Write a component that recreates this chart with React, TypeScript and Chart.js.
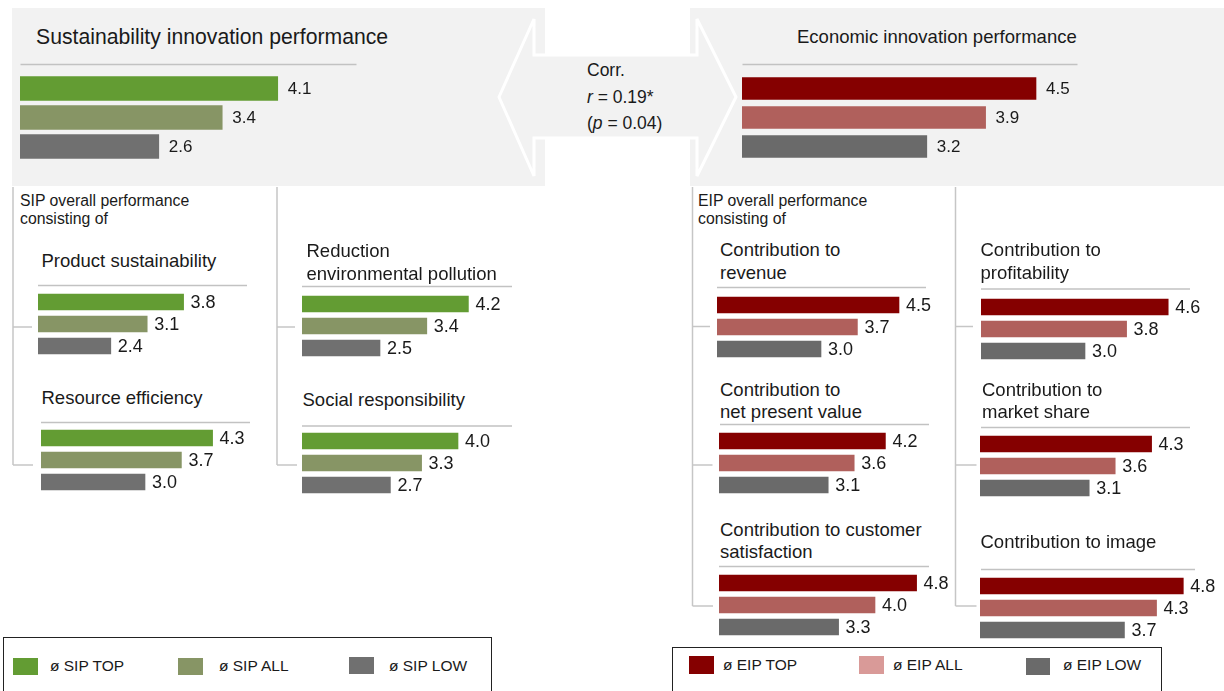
import React, { useEffect, useRef } from 'react';
import { Chart, registerables } from 'chart.js';

Chart.register(...registerables);

// ---------- data ----------
const GROUPS = ['TOP', 'ALL', 'LOW'];

const SIP_OVERALL = [4.1, 3.4, 2.6];
const EIP_OVERALL = [4.5, 3.9, 3.2];

const PRODUCT_SUSTAINABILITY = [3.8, 3.1, 2.4];
const REDUCTION_POLLUTION = [4.2, 3.4, 2.5];
const RESOURCE_EFFICIENCY = [4.3, 3.7, 3.0];
const SOCIAL_RESPONSIBILITY = [4.0, 3.3, 2.7];

const CONTRIB_REVENUE = [4.5, 3.7, 3.0];
const CONTRIB_PROFITABILITY = [4.6, 3.8, 3.0];
const CONTRIB_NPV = [4.2, 3.6, 3.1];
const CONTRIB_MARKET_SHARE = [4.3, 3.6, 3.1];
const CONTRIB_CUSTOMER_SAT = [4.8, 4.0, 3.3];
const CONTRIB_IMAGE = [4.8, 4.3, 3.7];

const SIP_LEGEND = ['ø SIP TOP', 'ø SIP ALL', 'ø SIP LOW'];
const EIP_LEGEND = ['ø EIP TOP', 'ø EIP ALL', 'ø EIP LOW'];

// ---------- styles ----------
const SIP_COLORS = ['#639c33', '#879565', '#707070'];
const EIP_COLORS = ['#850000', '#b0605c', '#6a6a6a'];
const EIP_LEGEND_COLORS = ['#850000', '#d99a98', '#6a6a6a'];
const FONT = '"Liberation Sans", Arial, Helvetica, sans-serif';
const TEXT = '#1a1a1a';
const BOX = '#f2f2f2';
const RULE = '#c2c2c2';
const BRACKET = '#c6c6c6';

type PanelSpec = {
  values: number[];
  colors: string[];
  x: number;
  cy: number;
  ppu: number;
  thick: number;
  pitch: number;
  fs: number;
  gap: number;
  min?: number;
};

const SUB = { ppu: 52, thick: 16, pitch: 22, fs: 18, gap: 7 };

const PANELS: PanelSpec[] = [
  { values: SIP_OVERALL, colors: SIP_COLORS, x: 20, cy: 88, ppu: 79.3, min: 0.85, thick: 24, pitch: 29, fs: 17, gap: 10 },
  { values: EIP_OVERALL, colors: EIP_COLORS, x: 742, cy: 88, ppu: 84, thick: 22, pitch: 29, fs: 17, gap: 10 },
  { values: PRODUCT_SUSTAINABILITY, colors: SIP_COLORS, x: 38, cy: 302, ...SUB },
  { values: REDUCTION_POLLUTION, colors: SIP_COLORS, x: 302, cy: 304, ...SUB },
  { values: RESOURCE_EFFICIENCY, colors: SIP_COLORS, x: 41, cy: 438, ...SUB },
  { values: SOCIAL_RESPONSIBILITY, colors: SIP_COLORS, x: 302, cy: 441, ...SUB },
  { values: CONTRIB_REVENUE, colors: EIP_COLORS, x: 717, cy: 305, ...SUB },
  { values: CONTRIB_PROFITABILITY, colors: EIP_COLORS, x: 981, cy: 307, ...SUB },
  { values: CONTRIB_NPV, colors: EIP_COLORS, x: 719, cy: 441, ...SUB },
  { values: CONTRIB_MARKET_SHARE, colors: EIP_COLORS, x: 980, cy: 444, ...SUB },
  { values: CONTRIB_CUSTOMER_SAT, colors: EIP_COLORS, x: 719, cy: 583, ...SUB },
  { values: CONTRIB_IMAGE, colors: EIP_COLORS, x: 980, cy: 586, ...SUB, ppu: 53.5 },
];

function BarPanel(p: PanelSpec) {
  const ref = useRef<HTMLCanvasElement>(null);
  const min = p.min ?? 1;
  const max = min + 4;
  const plotW = 4 * p.ppu;
  const w = Math.ceil(plotW) + 60;
  const h = Math.round(3 * p.pitch);
  useEffect(() => {
    const chart = new Chart(ref.current as HTMLCanvasElement, {
      type: 'bar',
      data: {
        labels: GROUPS,
        datasets: [
          {
            data: p.values,
            backgroundColor: p.colors,
            barThickness: p.thick,
            borderWidth: 0,
          },
        ],
      },
      options: {
        indexAxis: 'y',
        responsive: false,
        maintainAspectRatio: false,
        animation: false,
        devicePixelRatio: 1,
        events: [],
        layout: { padding: { left: 0, top: 0, bottom: 0, right: w - plotW } },
        scales: {
          x: { type: 'linear', min, max, beginAtZero: false, display: false },
          y: { display: false },
        },
        plugins: { legend: { display: false }, tooltip: { enabled: false } },
      },
      plugins: [
        {
          id: 'valueLabels',
          afterDatasetsDraw(c: any) {
            const ctx = c.ctx;
            const meta = c.getDatasetMeta(0);
            ctx.save();
            ctx.font = `${p.fs}px ${FONT}`;
            ctx.fillStyle = TEXT;
            ctx.textBaseline = 'middle';
            ctx.textAlign = 'left';
            meta.data.forEach((el: any, i: number) => {
              ctx.fillText(p.values[i].toFixed(1), el.x + p.gap, el.y + 1);
            });
            ctx.restore();
          },
        },
      ],
    } as any);
    return () => chart.destroy();
  }, []);
  return (
    <canvas
      ref={ref}
      width={w}
      height={h}
      style={{ position: 'absolute', left: p.x, top: Math.round(p.cy - p.pitch / 2), width: w, height: h }}
    />
  );
}

function Txt({ x, y, fs, lh, children, style }: any) {
  return (
    <div
      style={{
        position: 'absolute',
        left: x,
        top: y,
        fontSize: fs,
        lineHeight: `${lh}px`,
        fontFamily: FONT,
        color: TEXT,
        whiteSpace: 'nowrap',
        ...style,
      }}
    >
      {children}
    </div>
  );
}

const RULES: [number, number, number][] = [
  [20.5, 356.5, 64.5],
  [742.5, 1077.5, 64.5],
  [38, 247, 285.5],
  [302, 512, 286.5],
  [41, 250, 422.5],
  [302, 512, 426],
  [717, 926, 287.5],
  [981, 1190, 289],
  [720, 929, 424.5],
  [981, 1190, 427.5],
  [719, 929, 566.5],
  [981, 1195, 569.5],
];

const BRACKETS: { x: number; y0: number; ticks: [number, number][] }[] = [
  { x: 13, y0: 187, ticks: [[327, 32], [465, 33]] },
  { x: 277, y0: 187, ticks: [[327, 295], [465, 297]] },
  { x: 692.5, y0: 187, ticks: [[326.5, 710], [465, 712.5], [606, 713]] },
  { x: 955.5, y0: 187, ticks: [[326.5, 973], [465, 976.5], [606, 976.5]] },
];

function Legend({ x, y, w, labels, colors, sw, tx, cy }: any) {
  return (
    <>
      <div
        style={{
          position: 'absolute',
          left: x,
          top: y,
          width: w,
          height: 80,
          border: '1px solid #222',
          boxSizing: 'border-box',
        }}
      />
      {labels.map((l: string, i: number) => (
        <React.Fragment key={l}>
          <div
            style={{
              position: 'absolute',
              left: sw[i][0],
              top: sw[i][1],
              width: sw[i][2],
              height: sw[i][3],
              background: colors[i],
            }}
          />
          <Txt x={tx[i]} y={cy - 10} fs={15.5} lh={20}>
            {l}
          </Txt>
        </React.Fragment>
      ))}
    </>
  );
}

export default function App() {
  return (
    <div
      style={{
        position: 'absolute',
        left: 0,
        top: 0,
        width: 1224,
        height: 691,
        overflow: 'hidden',
        background: '#fff',
        fontFamily: FONT,
      }}
    >
      <svg width={1224} height={691} style={{ position: 'absolute', left: 0, top: 0 }}>
        <rect x={12} y={8} width={533} height={178} fill={BOX} />
        <rect x={690} y={8} width={534} height={178} fill={BOX} />
        <polygon
          points="499,97 534,19 534,55 697,55 697,19 736,97 697,176 697,138 534,138 534,176"
          fill={BOX}
          stroke="#ffffff"
          strokeWidth={3}
        />
        {RULES.map(([x0, x1, y], i) => (
          <line key={'r' + i} x1={x0} x2={x1} y1={y} y2={y} stroke={RULE} strokeWidth={1.5} />
        ))}
        {BRACKETS.map((b, i) => {
          const yEnd = b.ticks[b.ticks.length - 1][0];
          return (
            <g key={'b' + i} stroke={BRACKET} strokeWidth={1.5} fill="none">
              <line x1={b.x} x2={b.x} y1={b.y0} y2={yEnd} />
              {b.ticks.map(([ty, tx], j) => (
                <line key={j} x1={b.x} x2={tx} y1={ty} y2={ty} />
              ))}
            </g>
          );
        })}
      </svg>

      {PANELS.map((p, i) => (
        <BarPanel key={i} {...p} />
      ))}

      <Txt x={36} y={25} fs={21.2} lh={24}>Sustainability innovation performance</Txt>
      <Txt x={797} y={24.5} fs={18.5} lh={23}>Economic innovation performance</Txt>

      <Txt x={587} y={57} fs={17.5} lh={26.5}>
        Corr.
        <br />
        <i>r</i> = 0.19*
        <br />(<i>p</i> = 0.04)
      </Txt>

      <Txt x={20} y={191.5} fs={15.8} lh={18.6}>
        SIP overall performance
        <br />
        consisting of
      </Txt>
      <Txt x={698} y={191.5} fs={15.8} lh={18.6}>
        EIP overall performance
        <br />
        consisting of
      </Txt>

      <Txt x={41.5} y={248.5} fs={18.5} lh={23}>Product sustainability</Txt>
      <Txt x={306.5} y={239.2} fs={18.5} lh={23.3}>
        Reduction
        <br />
        environmental pollution
      </Txt>
      <Txt x={41.5} y={386} fs={18.5} lh={23}>Resource efficiency</Txt>
      <Txt x={302.5} y={387.5} fs={18.5} lh={23}>Social responsibility</Txt>

      <Txt x={720} y={239.2} fs={18.5} lh={22.6}>
        Contribution to
        <br />
        revenue
      </Txt>
      <Txt x={980.5} y={239.2} fs={18.5} lh={22.6}>
        Contribution to
        <br />
        profitability
      </Txt>
      <Txt x={720} y={378.8} fs={18.5} lh={21.8}>
        Contribution to
        <br />
        net present value
      </Txt>
      <Txt x={982} y={378.8} fs={18.5} lh={21.8}>
        Contribution to
        <br />
        market share
      </Txt>
      <Txt x={720} y={518.8} fs={18.5} lh={22.6}>
        Contribution to customer
        <br />
        satisfaction
      </Txt>
      <Txt x={980.5} y={530} fs={18.5} lh={23}>Contribution to image</Txt>

      <Legend
        x={3}
        y={637}
        w={489}
        labels={SIP_LEGEND}
        colors={SIP_COLORS}
        sw={[
          [13, 658, 25, 17],
          [178, 658, 25, 17],
          [349, 657, 25, 17],
        ]}
        tx={[50, 219, 389]}
        cy={666}
      />
      <Legend
        x={672}
        y={647}
        w={490}
        labels={EIP_LEGEND}
        colors={EIP_LEGEND_COLORS}
        sw={[
          [689, 656, 25, 18],
          [859, 656, 25, 18],
          [1026, 658, 24, 17],
        ]}
        tx={[723, 893, 1063]}
        cy={665}
      />
    </div>
  );
}
